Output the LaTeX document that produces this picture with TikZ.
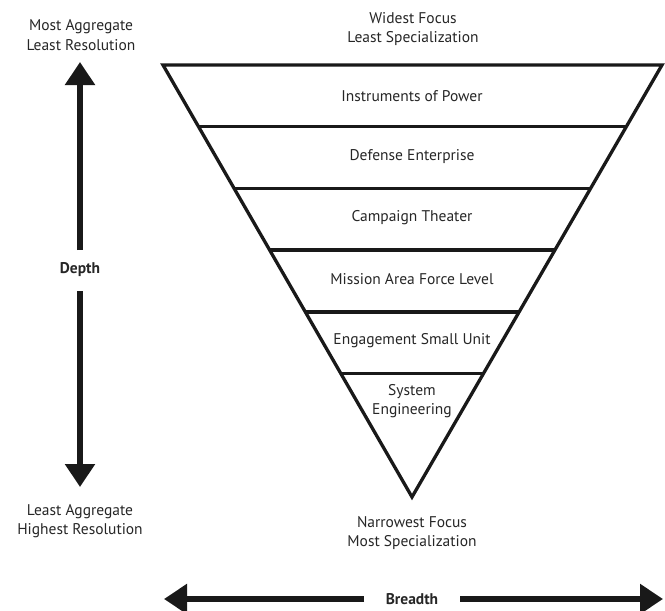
\documentclass[tikz,border=0pt]{standalone}
\usepackage{fontspec}
\setmainfont{PT Sans}
\usetikzlibrary{arrows.meta,calc}
\begin{document}
\begin{tikzpicture}[x=1pt,y=-1pt,
  lbl/.style={font=\fontsize{15.5}{19.5}\selectfont, align=center, text=black!85, inner sep=0pt},
  blbl/.style={font=\fontsize{15.5}{19.5}\selectfont\bfseries, text=black!85, inner sep=0pt},
  outline/.style={line width=3.3pt, line join=miter, black!90},
  layer/.style={line width=3.3pt, black!90},
  bigarrow/.style={line width=5.5pt, black!90, -{Triangle[length=23pt,width=29pt]}}]
\useasboundingbox (0,0) rectangle (665,611);
% funnel
\coordinate (tl) at (163,65);
\coordinate (tr) at (662,65);
\coordinate (apex) at (412,497);
\draw[outline] (tl) -- (tr) -- (apex) -- cycle;
\foreach \k in {1,...,5}{
  \draw[layer] ($(tl)!\k/7!(apex)$) -- ($(tr)!\k/7!(apex)$);
}
% layer labels
\node[lbl] (l1) at (412,96) {Instruments of Power};
\node[lbl] (l2) at (412,157) {Defense Enterprise};
\node[lbl] (l3) at (412,218) {Campaign Theater};
\node[lbl] (l4) at (412,279) {Mission Area Force Level};
\node[lbl] (l5) at (412,341) {Engagement Small Unit};
\node[lbl] (l6) at (412,401) {System\\Engineering};
% top / bottom labels
\node[lbl] (wide) at (413,29) {Widest Focus\\Least Specialization};
\node[lbl] (narrow) at (412,533) {Narrowest Focus\\Most Specialization};
\node[lbl] (mostagg) at (81,35) {Most Aggregate\\Least Resolution};
\node[lbl] (leastagg) at (80,521) {Least Aggregate\\Highest Resolution};
% depth arrow
\node[blbl] (depth) at (80,270) {Depth};
\coordinate (dtop) at (80,62);
\coordinate (dbot) at (80,487);
\draw[bigarrow] (80,250) -- (dtop);
\draw[bigarrow] (80,291) -- (dbot);
% breadth arrow
\node[blbl] (breadth) at (412,599) {Breadth};
\coordinate (bleft) at (164,599);
\coordinate (bright) at (663,599);
\draw[bigarrow] (364,599) -- (bleft);
\draw[bigarrow] (460,599) -- (bright);
\end{tikzpicture}
\end{document}
